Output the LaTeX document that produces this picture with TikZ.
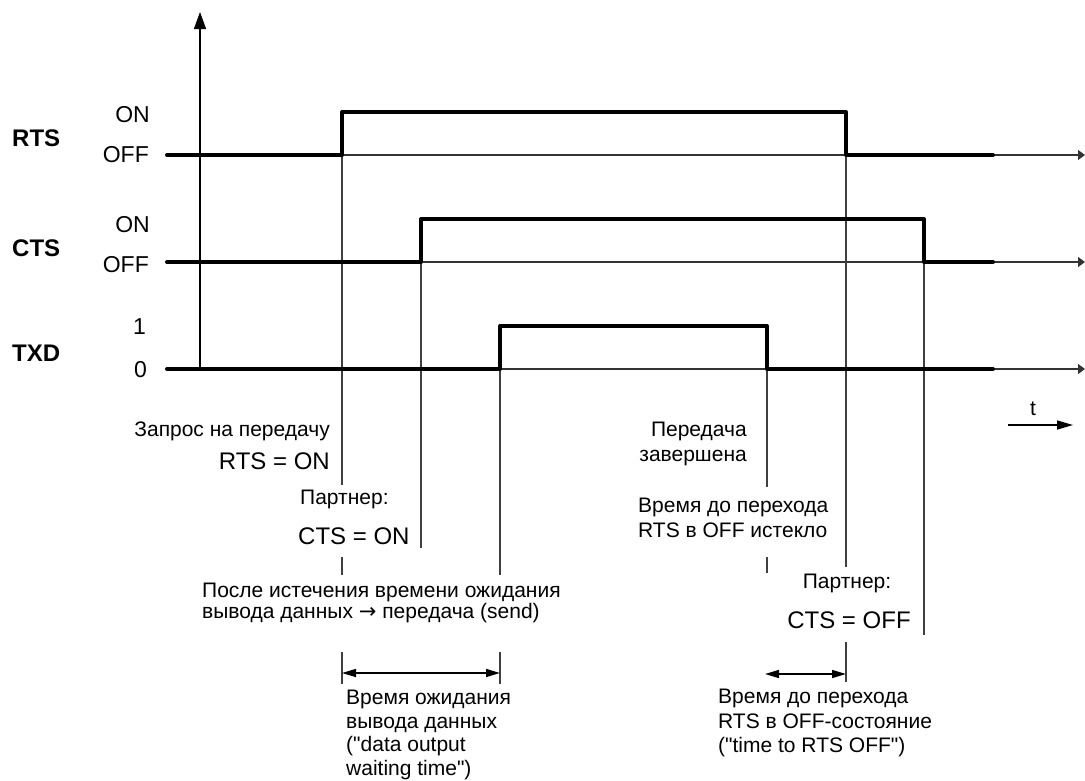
\documentclass[tikz,border=0pt]{standalone}
\usepackage{fontspec}
\setmainfont{Liberation Sans}
\newfontfamily\arrowfont{DejaVu Sans}
\usetikzlibrary{arrows.meta}
\begin{document}
\begin{tikzpicture}[x=1pt,y=-1pt,
  sig/.style={line width=4pt, line cap=round, line join=round},
  base/.style={line width=1.2pt, black!80, -{Triangle[length=7pt,width=10pt]}},
  marker/.style={line width=1.2pt, black!75},
  dim/.style={line width=1.6pt, {Triangle[length=14pt,width=8pt]}-{Triangle[length=14pt,width=8pt]}},
  lbl/.style={font=\fontsize{21}{25}\selectfont, inner sep=0pt},
  eq/.style={font=\fontsize{24}{28}\selectfont, inner sep=0pt},
  lvl/.style={font=\fontsize{23}{27}\selectfont, inner sep=0pt, anchor=east},
  signame/.style={font=\fontsize{24}{28}\selectfont\bfseries, inner sep=0pt, anchor=west}]
\useasboundingbox (0,0) rectangle (1085,780);

% ---- key coordinates
\coordinate (axB) at (200,369);
\coordinate (axT) at (200,12);
\coordinate (rS) at (167,155); \coordinate (rE) at (1085,155);
\coordinate (cS) at (167,262); \coordinate (cE) at (1085,262);
\coordinate (tS) at (167,369); \coordinate (tE) at (1085,369);

% ---- axis
\draw[line width=1.3pt, -{Triangle[length=17pt,width=12pt]}] (axB) -- (axT);

% ---- thin base lines
\draw[base] (rS) -- (rE);
\draw[base] (cS) -- (cE);
\draw[base] (tS) -- (tE);

% ---- event markers
\coordinate (m1a) at (342,155); \coordinate (m1b) at (342,485);
\coordinate (m1c) at (342,557); \coordinate (m1d) at (342,575);
\coordinate (m1e) at (342,652); \coordinate (m1f) at (342,684);
\coordinate (m2a) at (421,262); \coordinate (m2b) at (421,548);
\coordinate (m3a) at (500,369); \coordinate (m3b) at (500,575);
\coordinate (m3c) at (500,652); \coordinate (m3d) at (500,684);
\coordinate (m4a) at (767,369); \coordinate (m4b) at (767,487);
\coordinate (m4c) at (767,557); \coordinate (m4d) at (767,573);
\coordinate (m5a) at (846,155); \coordinate (m5b) at (846,567);
\coordinate (m5c) at (846,642); \coordinate (m5d) at (846,682);
\coordinate (m6a) at (924,262); \coordinate (m6b) at (924,635);
\draw[marker] (m1a) -- (m1b) (m1c) -- (m1d) (m1e) -- (m1f);
\draw[marker] (m2a) -- (m2b);
\draw[marker] (m3a) -- (m3b) (m3c) -- (m3d);
\draw[marker] (m4a) -- (m4b) (m4c) -- (m4d);
\draw[marker] (m5a) -- (m5b) (m5c) -- (m5d);
\draw[marker] (m6a) -- (m6b);

% ---- signals
\draw[sig] (rS) -- (342,155) -- (342,112) -- (846,112) -- (846,155) -- (993,155);
\draw[sig] (cS) -- (421,262) -- (421,219) -- (924,219) -- (924,262) -- (993,262);
\draw[sig] (tS) -- (500,369) -- (500,326) -- (767,326) -- (767,369) -- (993,369);

% ---- signal names and levels
\node[signame] (nRTS) at (12,138) {RTS};
\node[signame] (nCTS) at (12,248) {CTS};
\node[signame] (nTXD) at (12,353) {TXD};
\node[lvl] (rOn)  at (150,115) {ON};
\node[lvl] (rOff) at (149,155) {OFF};
\node[lvl] (cOn)  at (150,225) {ON};
\node[lvl] (cOff) at (149,265) {OFF};
\node[lvl] (t1)   at (146,327) {1};
\node[lvl] (t0)   at (147,370) {0};

% ---- time arrow
\coordinate (ta) at (1008,425); \coordinate (tb) at (1073,425);
\draw[line width=1.5pt, -{Triangle[length=16pt,width=9pt]}] (ta) -- (tb);
\node[lbl, anchor=base] (tlab) at (1033,415) {t};

% ---- annotations
\node[lbl, anchor=north east] (req) at (330,422) {Запрос на передачу};
\node[eq, anchor=north east] (reqeq) at (330,453) {RTS = ON};
\node[lbl, anchor=north west] (p1) at (300,490) {Партнер:};
\node[eq, anchor=north west] (p1eq) at (298,528) {CTS = ON};
\node[font=\fontsize{21}{17.5}\selectfont, inner sep=0pt, anchor=north west, align=left] (after) at (202,583)
  {После истечения времени ожидания\\вывода данных {\arrowfont →} передача (send)};
\node[lbl, anchor=north east, align=right] (done) at (747,422) {Передача\\завершена};
\node[lbl, anchor=north west, align=left] (expired) at (638,498) {Время до перехода\\RTS в OFF истекло};
\node[lbl, anchor=north] (p2) at (847,574) {Партнер:};
\node[eq, anchor=north] (p2eq) at (849,612) {CTS = OFF};

% ---- dimension arrows
\coordinate (d1a) at (342,673); \coordinate (d1b) at (500,673);
\coordinate (d2a) at (765,674); \coordinate (d2b) at (846,674);
\draw[dim] (d1a) -- (d1b);
\draw[dim] (d2a) -- (d2b);
\node[font=\fontsize{21}{23.5}\selectfont, inner sep=0pt, anchor=north west, align=left] (wait) at (346,690)
  {Время ожидания\\вывода данных\\(\textquotedbl data output\\waiting time\textquotedbl)};
\node[font=\fontsize{21}{24.5}\selectfont, inner sep=0pt, anchor=north west, align=left] (rtsoff) at (718,689)
  {Время до перехода\\RTS в OFF-состояние\\(\textquotedbl time to RTS OFF\textquotedbl)};
\end{tikzpicture}
\end{document}
